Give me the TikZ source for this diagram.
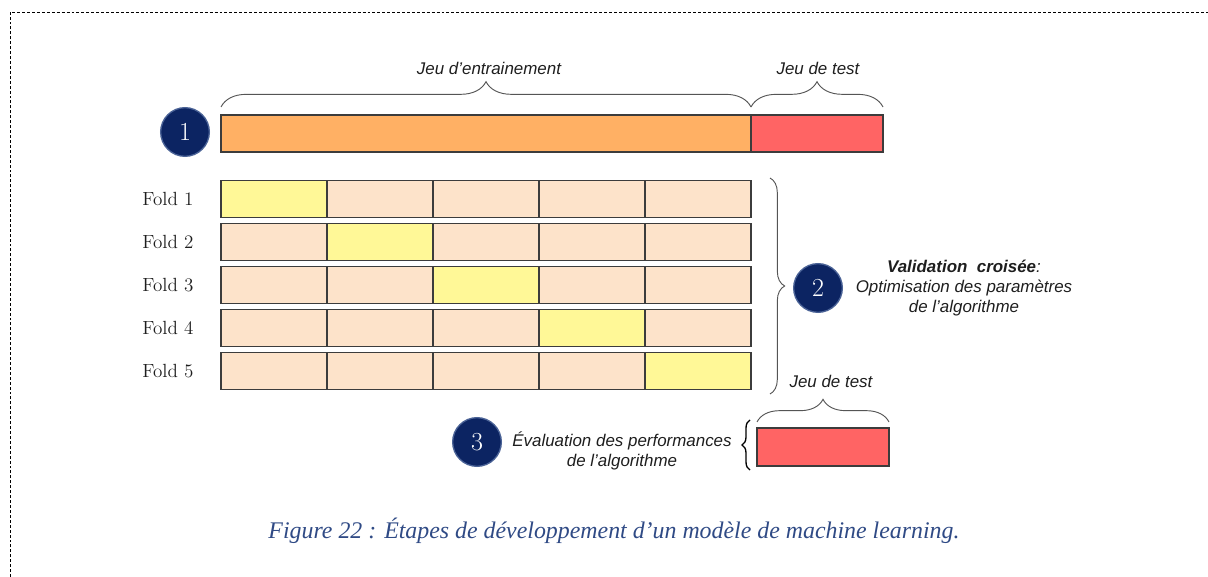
\documentclass[tikz,border=0pt]{standalone}
\usepackage{fontspec}
\newfontfamily\arialfont{Liberation Sans}
\newfontfamily\timesfont{Liberation Serif}
\usetikzlibrary{decorations.pathreplacing}
\definecolor{navy}{HTML}{0C2462}
\definecolor{navyedge}{HTML}{4A6296}
\definecolor{orangebar}{HTML}{FFB064}
\definecolor{redbar}{HTML}{FF6464}
\definecolor{peach}{HTML}{FDE3CA}
\definecolor{yell}{HTML}{FFF897}
\definecolor{edge}{HTML}{3C3C3C}
\definecolor{captionblue}{HTML}{2F4A85}
\definecolor{bracegray}{HTML}{555555}
\definecolor{txt}{HTML}{1E1E1E}
\tikzset{
  cell/.style={draw=edge, line width=0.9pt, fill=peach, minimum width=79.5pt, minimum height=27.5pt, inner sep=0pt, outer sep=0pt},
  testcell/.style={cell, fill=yell},
  numcircle/.style={circle, fill=navy, draw=navyedge, line width=1pt, minimum size=36.5pt, inner sep=0pt, text=white, font=\fontsize{19.5}{19.5}\selectfont},
  foldlbl/.style={font=\fontsize{14.3}{14.3}\selectfont, anchor=center, text=txt},
  sans/.style={font=\arialfont\itshape\fontsize{12.7}{15}\selectfont, align=center, text=txt},
  bracestyle/.style={draw=bracegray, line width=0.7pt, decorate, decoration={brace, amplitude=#1}},
}
\begin{document}
\begin{tikzpicture}[x=0.75pt,y=-0.75pt]
\useasboundingbox (0,0) rectangle (1208,577);
% dashed frame
\draw[black, line width=0.6pt, dash pattern=on 2.2pt off 1.5pt] (10,577) -- (10,12) -- (1208,12);

% step 1
\node[numcircle] (c1) at (185,132) {1};
\node[draw=edge, line width=0.9pt, fill=orangebar, minimum width=397.5pt, minimum height=27.75pt, inner sep=0pt, outer sep=0pt] (train) at (486,133.5) {};
\node[draw=edge, line width=0.9pt, fill=redbar, minimum width=99pt, minimum height=27.75pt, inner sep=0pt, outer sep=0pt, anchor=west] (test) at (train.east) {};
\draw[bracestyle=19pt] ([yshift=6pt]train.north west) -- ([yshift=6pt]train.north east) coordinate[midway] (tb);
\draw[bracestyle=19pt] ([yshift=6pt]test.north west) -- ([yshift=6pt]test.north east);
\node[sans] (ltrain) at (489,68) {Jeu d’entrainement};
\node[sans] (ltest) at (818,68) {Jeu de test};

% folds
\foreach \i in {1,...,5} {
  \pgfmathsetmacro{\yy}{199+43*(\i-1)}
  \node[foldlbl] (f\i) at (168,\yy) {Fold \i};
  \foreach \j in {1,...,5} {
    \pgfmathsetmacro{\xx}{274+106*(\j-1)}
    \ifnum\i=\j
      \node[testcell] (r\i c\j) at (\xx,\yy) {};
    \else
      \node[cell] (r\i c\j) at (\xx,\yy) {};
    \fi
  }
}
\coordinate (bt) at (770,178);
\coordinate (bb) at (770,394);
\draw[bracestyle=11pt] (bt) -- (bb);
\node[numcircle] (c2) at (818,288) {2};
\node[sans] (val) at (964,288) {{\bfseries Validation\ \ croisée}:\\Optimisation des paramètres\\de l’algorithme};

% step 3
\node[sans] (ltest2) at (831,381) {Jeu de test};
\node[draw=edge, line width=0.9pt, fill=redbar, minimum width=99pt, minimum height=28.5pt, inner sep=0pt, outer sep=0pt] (test2) at (823,447) {};
\draw[bracestyle=17pt] ([yshift=4.5pt]test2.north west) -- ([yshift=4.5pt]test2.north east);
\coordinate (lb) at (750,470);
\coordinate (lt) at (750,420);
\draw[bracestyle=6pt, line width=1pt, draw=black] (lb) -- (lt);
\node[numcircle] (c3) at (477,442) {3};
\node[sans] (eval) at (622,450.5) {Évaluation des performances\\de l’algorithme};

% caption
\node[font=\timesfont\itshape\fontsize{17.9}{20}\selectfont, text=captionblue] (cap) at (614,531) {Figure 22 : Étapes de développement d’un modèle de machine learning.};
\end{tikzpicture}
\end{document}
